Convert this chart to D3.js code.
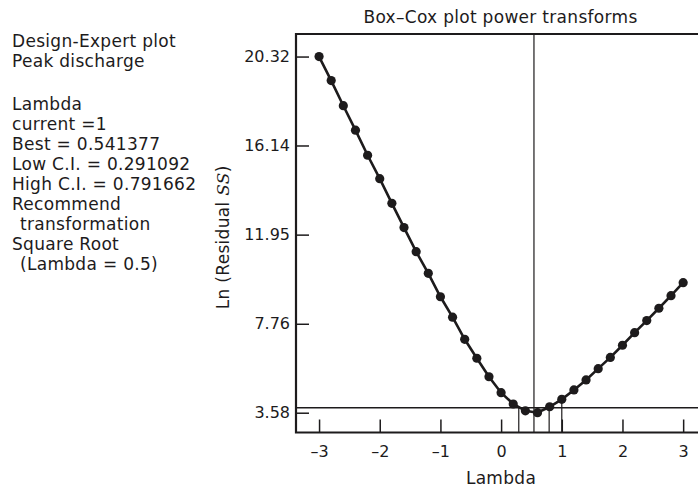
<!DOCTYPE html>
<html>
<head>
<meta charset="utf-8">
<script src="https://cdn.jsdelivr.net/npm/d3@7"></script>
<style>
  body { margin: 0; background: #fff; }
  svg { display: block; font-family: "DejaVu Sans", "Liberation Sans", Arial, sans-serif; }
</style>
</head>
<body>
<svg id="chart" width="698" height="487"></svg>
<script>
// ---- data ----
const lambdas = [-3.0,-2.8,-2.6,-2.4,-2.2,-2.0,-1.8,-1.6,-1.4,-1.2,-1.0,-0.8,-0.6,-0.4,-0.2,0.0,0.2,0.4,0.6,0.8,1.0,1.2,1.4,1.6,1.8,2.0,2.2,2.4,2.6,2.8,3.0];
const lnResidualSS = [20.32,19.19,18.01,16.86,15.68,14.58,13.42,12.28,11.15,10.13,9.03,8.07,7.03,6.14,5.27,4.52,3.99,3.67,3.58,3.86,4.21,4.65,5.12,5.65,6.18,6.75,7.34,7.91,8.49,9.08,9.69];
const yTickValues = [3.58, 7.76, 11.95, 16.14, 20.32];
const yTickLabels = ["3.58", "7.76", "11.95", "16.14", "20.32"];
const xTickValues = [-3, -2, -1, 0, 1, 2, 3];
const xTickLabels = ["\u20133", "\u20132", "\u20131", "0", "1", "2", "3"];
const bestLambda = 0.541377;
const lowCI = 0.291092;
const highCI = 0.791662;
const currentLambda = 1;
const currentValue = 4.21;
const ciThreshold = 3.815;
const infoLines = ["Design-Expert plot", "Peak discharge", "", "Lambda", "current =1", "Best = 0.541377", "Low C.I. = 0.291092", "High C.I. = 0.791662", "Recommend", " transformation", "Square Root", " (Lambda = 0.5)"];

// ---- layout ----
const svg = d3.select("#chart");
const L = 296, R = 705, T = 34, B = 432.5;
const x = d3.scaleLinear().domain([-3.38, 3.36]).range([L, R]);
const y = d3.scaleLinear().domain([2.65, 21.38]).range([B, T]);
const ink = "#1d1b1c";
const FS = 17, LS = 0.3;

// title
svg.append("text").attr("x", 500.5).attr("y", 23).attr("text-anchor", "middle")
  .attr("font-size", FS).attr("letter-spacing", LS).attr("fill", ink).text("Box\u2013Cox plot power transforms");

// info text
let yy = 46.7;
infoLines.forEach((t, i) => {
  if (i === 3) yy += 3.3;
  if (t !== "") {
    const indent = t.startsWith(" ");
    svg.append("text").attr("x", indent ? 20 : 12).attr("y", yy)
      .attr("font-size", FS).attr("letter-spacing", LS).attr("fill", ink).text(t.trim());
  }
  yy += 20;
});

// axes
const yAxis = d3.axisLeft(y).tickValues(yTickValues)
  .tickFormat((d, i) => yTickLabels[i]).tickSizeInner(-13).tickSizeOuter(0).tickPadding(6);
const gy = svg.append("g").attr("transform", `translate(${L},0)`).call(yAxis);
const xAxis = d3.axisBottom(x).tickValues(xTickValues)
  .tickFormat((d, i) => xTickLabels[i]).tickSizeInner(-13).tickSizeOuter(0).tickPadding(13);
const gx = svg.append("g").attr("transform", `translate(0,${B})`).call(xAxis);
[gx, gy].forEach(g => {
  g.select(".domain").remove();
  g.selectAll(".tick line").attr("stroke", ink).attr("stroke-width", 1.5);
  g.selectAll(".tick text").attr("font-size", 16).attr("fill", ink)
    .attr("font-family", "DejaVu Sans, Liberation Sans, Arial, sans-serif");
});

// reference lines
svg.append("line").attr("x1", x(bestLambda)).attr("x2", x(bestLambda))
  .attr("y1", T).attr("y2", B).attr("stroke", ink).attr("stroke-width", 1.2);
svg.append("line").attr("x1", L).attr("x2", R)
  .attr("y1", y(ciThreshold)).attr("y2", y(ciThreshold)).attr("stroke", ink).attr("stroke-width", 1.4);
[lowCI, highCI].forEach(v => {
  svg.append("line").attr("x1", x(v)).attr("x2", x(v))
    .attr("y1", B).attr("y2", y(ciThreshold)).attr("stroke", ink).attr("stroke-width", 1.2);
});
svg.append("line").attr("x1", x(currentLambda)).attr("x2", x(currentLambda))
  .attr("y1", B).attr("y2", y(currentValue)).attr("stroke", ink).attr("stroke-width", 1.2);

// frame
svg.append("path").attr("d", `M${R},${T}H${L}V${B}H${R}`)
  .attr("fill", "none").attr("stroke", ink).attr("stroke-width", 2.2);

// axis titles
svg.append("text").attr("x", 501).attr("y", 484).attr("text-anchor", "middle")
  .attr("font-size", FS).attr("letter-spacing", LS).attr("fill", ink).text("Lambda");
const yl = svg.append("text").attr("transform", `translate(229,${(T + B) / 2 + 4}) rotate(-90)`)
  .attr("text-anchor", "middle").attr("font-size", FS).attr("letter-spacing", LS).attr("fill", ink);
yl.append("tspan").text("Ln (Residual ");
yl.append("tspan").attr("font-style", "italic").attr("font-family", "DejaVu Serif, Liberation Serif, serif").text("SS");
yl.append("tspan").text(")");

// data
const pts = lambdas.map((l, i) => [l, lnResidualSS[i]]);
svg.append("path").datum(pts)
  .attr("d", d3.line().x(d => x(d[0])).y(d => y(d[1])))
  .attr("fill", "none").attr("stroke", ink).attr("stroke-width", 2.6);
svg.selectAll("circle.pt").data(pts).enter().append("circle").attr("class", "pt")
  .attr("cx", d => x(d[0])).attr("cy", d => y(d[1])).attr("r", 4.6).attr("fill", ink);
</script>
</body>
</html>
